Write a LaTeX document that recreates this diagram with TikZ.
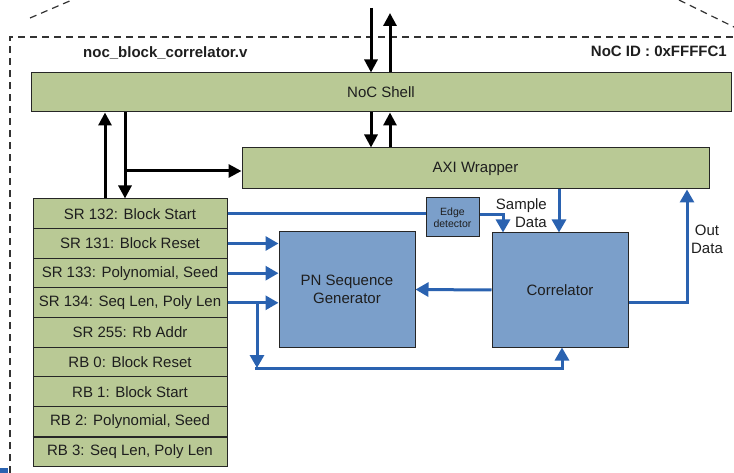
\documentclass[tikz,border=0pt]{standalone}
\usepackage{fontspec}
\setmainfont{Liberation Sans}
\usetikzlibrary{arrows.meta}
\definecolor{gfill}{HTML}{B9C995}
\definecolor{bfill}{HTML}{7B9FCA}
\definecolor{barc}{HTML}{2A62B0}
\definecolor{txt}{HTML}{1E1E1E}
\begin{document}
\begin{tikzpicture}[x=1pt,y=-1pt,
  base/.style={draw=black!85, line width=1pt, inner sep=0pt, text=txt,
    font=\fontsize{15}{17.5}\selectfont, align=center},
  gbox/.style={base, fill=gfill},
  bbox/.style={base, fill=bfill},
  reg/.style={gbox, minimum width=194pt, minimum height=29.67pt},
  karr/.style={line width=3pt, -{Triangle[length=13pt,width=13pt]}},
  bline/.style={draw=barc, line width=3pt},
  barrow/.style={bline, -{Triangle[length=13pt,width=14pt]}},
  dashline/.style={draw=black!80, line width=1.2pt, dash pattern=on 7pt off 5pt},
  lab/.style={text=txt, inner sep=0pt, font=\fontsize{15}{18}\selectfont},
  title/.style={text=txt, inner sep=0pt, font=\fontsize{15}{18}\selectfont\bfseries}
]
\useasboundingbox (0,0) rectangle (734,473);
% dashed outline
\draw[dashline] (10,473) -- (10,37) -- (734,37);
\draw[dashline] (30,18) -- (72,0);
\draw[dashline] (679,0) -- (734,27);
\fill[barc] (0,468) rectangle (8,473);

% titles
\node[title, anchor=base west] (ttl) at (83,58) {noc\_block\_correlator.v};
\node[title, anchor=base east] (nid) at (727,57) {NoC ID : 0xFFFFC1};

% main boxes
\node[gbox, minimum width=700pt, minimum height=39pt] (shell) at (381,92.5) {NoC Shell};
\node[gbox, minimum width=467pt, minimum height=41pt] (axi) at (475.5,168.5) {AXI Wrapper};
\node[bbox, minimum width=136pt, minimum height=115pt] (pn) at (347,289.5) {PN Sequence\\Generator};
\node[bbox, minimum width=136pt, minimum height=114pt] (corr) at (560,290) {Correlator};
\node[bbox, minimum width=53pt, minimum height=39pt, font=\fontsize{10.5}{12.5}\selectfont] (edge) at (452.5,217.5) {Edge\\detector};

% register table
\node[reg] (r1) at (130,213.8) {SR 132: Block Start};
\node[reg] (r2) at (130,243.5) {SR 131: Block Reset};
\node[reg] (r3) at (130,273.2) {SR 133: Polynomial, Seed};
\node[reg] (r4) at (130,302.8) {SR 134: Seq Len, Poly Len};
\node[reg] (r5) at (130,332.5) {SR 255: Rb Addr};
\node[reg] (r6) at (130,362.2) {RB 0: Block Reset};
\node[reg] (r7) at (130,391.8) {RB 1: Block Start};
\node[reg] (r8) at (130,421.5) {RB 2: Polynomial, Seed};
\node[reg] (r9) at (130,451.2) {RB 3: Seq Len, Poly Len};
\draw[line width=1.6pt, black!85] (r8.south west) -- (r8.south east);

% black connectors
\coordinate (tin) at (371,8);
\coordinate (tout) at (390,13);
\coordinate (la) at (105,0);
\coordinate (lb) at (125,0);
\coordinate (j) at (125,171);
\draw[karr] (tin) -- (tin |- shell.north);
\draw[karr] (shell.north -| tout) -- (tout);
\draw[karr] (shell.south -| tin) -- (axi.north -| tin);
\draw[karr] (axi.north -| tout) -- (shell.south -| tout);
\draw[karr] (r1.north -| la) -- (shell.south -| la);
\draw[karr] (shell.south -| lb) -- (r1.north -| lb);
\draw[karr] (j) -- (j -| axi.west);

% blue connectors
\coordinate (ed) at (503,0);
\coordinate (br) at (257,0);
\coordinate (bl) at (257,368);
\coordinate (cs) at (562,0);
\coordinate (sd) at (559,0);
\coordinate (od) at (687,0);
\draw[bline] (r1.east) -- (r1.east -| edge.west);
\draw[barrow] ([yshift=3pt]edge.east) -| (ed |- corr.north);
\draw[barrow] (r2.east) -- (r2.east -| pn.west);
\draw[barrow] (r3.east) -- (r3.east -| pn.west);
\draw[barrow] (r4.east) -- (r4.east -| pn.west);
\draw[barrow] (br |- r4.east) -- (bl);
\draw[barrow] ([xshift=-2pt]bl) -| (cs |- corr.south);
\draw[barrow] (corr.west) -- (pn.east);
\draw[barrow] (sd |- axi.south) -- (sd |- corr.north);
\draw[barrow] ([yshift=-13pt]corr.east) -| (od |- axi.south);

% labels
\node[lab, align=right, anchor=east] (sdl) at (547,213) {Sample\\Data};
\node[lab, align=center] (odl) at (707,239) {Out\\Data};
\end{tikzpicture}
\end{document}
